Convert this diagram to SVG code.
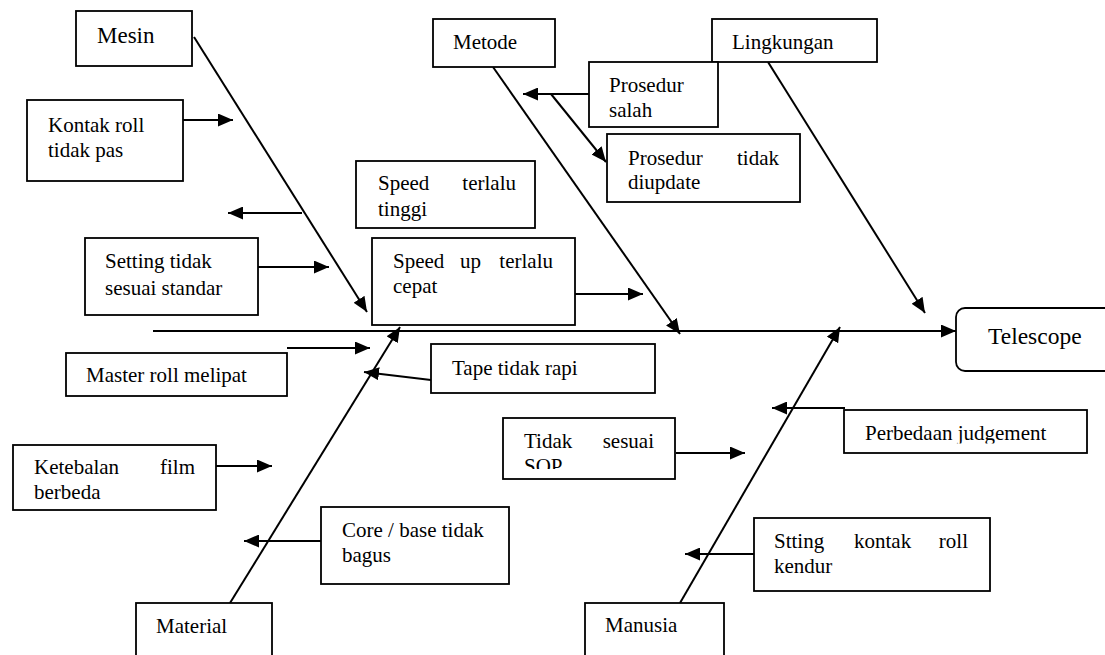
<svg xmlns="http://www.w3.org/2000/svg" width="1105" height="655" viewBox="0 0 1105 655">
<style>
.box{fill:#fff;stroke:#000;stroke-width:1.8}
text{font-family:'Liberation Serif',Tinos,'Times New Roman',Times,'DejaVu Serif',serif;font-size:21px;fill:#000}
.big{font-size:23px}
.c line{stroke:#000;stroke-width:2;marker-end:url(#ah)}
</style>
<defs>
<marker id="ah" markerUnits="userSpaceOnUse" markerWidth="15" markerHeight="13" refX="15" refY="6.5" orient="auto"><path d="M0,0 L15,6.5 L0,13 z" fill="#000"/></marker>
<clipPath id="cTinggi"><rect x="356" y="161" width="179" height="63"/></clipPath>
<clipPath id="cSop"><rect x="503" y="418" width="172" height="51"/></clipPath>
<clipPath id="cJudg"><rect x="844" y="410" width="243" height="33.5"/></clipPath>
</defs>
<g id="connectors" class="c">
<line x1="153" y1="331" x2="956" y2="331"/>
<line x1="194" y1="37" x2="367" y2="312"/>
<line x1="493" y1="67" x2="680" y2="334"/>
<line x1="768" y1="62" x2="925" y2="313"/>
<line x1="230" y1="603" x2="400" y2="327"/>
<line x1="680" y1="603" x2="840" y2="327"/>
<line x1="183" y1="120" x2="233" y2="120"/>
<line x1="302" y1="213" x2="228" y2="213"/>
<line x1="258" y1="267" x2="329" y2="267"/>
<line x1="575" y1="294" x2="643" y2="294"/>
<line x1="287" y1="348" x2="370" y2="348"/>
<line x1="431" y1="380" x2="364" y2="372"/>
<line x1="589" y1="94" x2="523" y2="94"/>
<line x1="551" y1="94" x2="606" y2="162"/>
<line x1="216" y1="466" x2="272" y2="466"/>
<line x1="321" y1="541" x2="244" y2="541"/>
<line x1="676" y1="453" x2="745" y2="453"/>
<line x1="845" y1="408" x2="772" y2="408"/>
<line x1="754" y1="554" x2="685" y2="554"/>
</g>
<g id="mesin"><rect class="box" x="76" y="11" width="116" height="55"/><text class="big" x="97" y="43">Mesin</text></g>
<g id="kontak-roll"><rect class="box" x="27" y="100" width="156" height="81"/><text x="48" y="132">Kontak roll</text><text x="48" y="157">tidak pas</text></g>
<g id="metode"><rect class="box" x="433" y="19" width="122" height="48"/><text x="453" y="49">Metode</text></g>
<g id="lingkungan"><rect class="box" x="712" y="19" width="165" height="43"/><text x="732" y="49">Lingkungan</text></g>
<g id="prosedur-salah"><rect class="box" x="589" y="62" width="129" height="65"/><text x="609" y="92">Prosedur</text><text x="609" y="117">salah</text></g>
<g id="prosedur-tidak"><rect class="box" x="607" y="134" width="193" height="68"/><text x="628" y="165">Prosedur</text><text x="779" y="165" text-anchor="end">tidak</text><text x="628" y="189">diupdate</text></g>
<g id="speed-terlalu"><rect class="box" x="356" y="161" width="179" height="67"/><text x="378" y="190">Speed</text><text x="516" y="190" text-anchor="end">terlalu</text><text x="378" y="216" clip-path="url(#cTinggi)">tinggi</text></g>
<g id="setting"><rect class="box" x="85" y="238" width="173" height="77"/><text x="105" y="268">Setting tidak</text><text x="105" y="295">sesuai standar</text></g>
<g id="speed-up"><rect class="box" x="372" y="238" width="203" height="87"/><text x="393" y="268">Speed</text><text x="460" y="268">up</text><text x="553" y="268" text-anchor="end">terlalu</text><text x="393" y="293">cepat</text></g>
<g id="master-roll"><rect class="box" x="66" y="353" width="221" height="43"/><text x="86" y="382">Master roll melipat</text></g>
<g id="tape"><rect class="box" x="431" y="344" width="224" height="49"/><text x="452" y="375">Tape tidak rapi</text></g>
<g id="telescope"><rect class="box" x="956" y="308" width="170" height="63" rx="9"/><text x="988" y="344" style="font-size:23.5px">Telescope</text></g>
<g id="perbedaan"><rect class="box" x="844" y="410" width="243" height="43"/><text x="865" y="440" clip-path="url(#cJudg)">Perbedaan judgement</text></g>
<g id="tidak-sesuai"><rect class="box" x="503" y="418" width="172" height="61"/><text x="524" y="448">Tidak</text><text x="654" y="448" text-anchor="end">sesuai</text><text x="524" y="473" clip-path="url(#cSop)">SOP</text></g>
<g id="ketebalan"><rect class="box" x="13" y="445" width="203" height="65"/><text x="34" y="474">Ketebalan</text><text x="195" y="474" text-anchor="end">film</text><text x="34" y="499">berbeda</text></g>
<g id="core"><rect class="box" x="321" y="507" width="188" height="77"/><text x="342" y="537">Core / base tidak</text><text x="342" y="562">bagus</text></g>
<g id="stting"><rect class="box" x="754" y="518" width="236" height="73"/><text x="774" y="548">Stting</text><text x="854" y="548">kontak</text><text x="968" y="548" text-anchor="end">roll</text><text x="774" y="573">kendur</text></g>
<g id="material"><rect class="box" x="136" y="603" width="136" height="60"/><text x="156" y="633">Material</text></g>
<g id="manusia"><rect class="box" x="585" y="603" width="139" height="60"/><text x="605" y="632">Manusia</text></g>
</svg>
